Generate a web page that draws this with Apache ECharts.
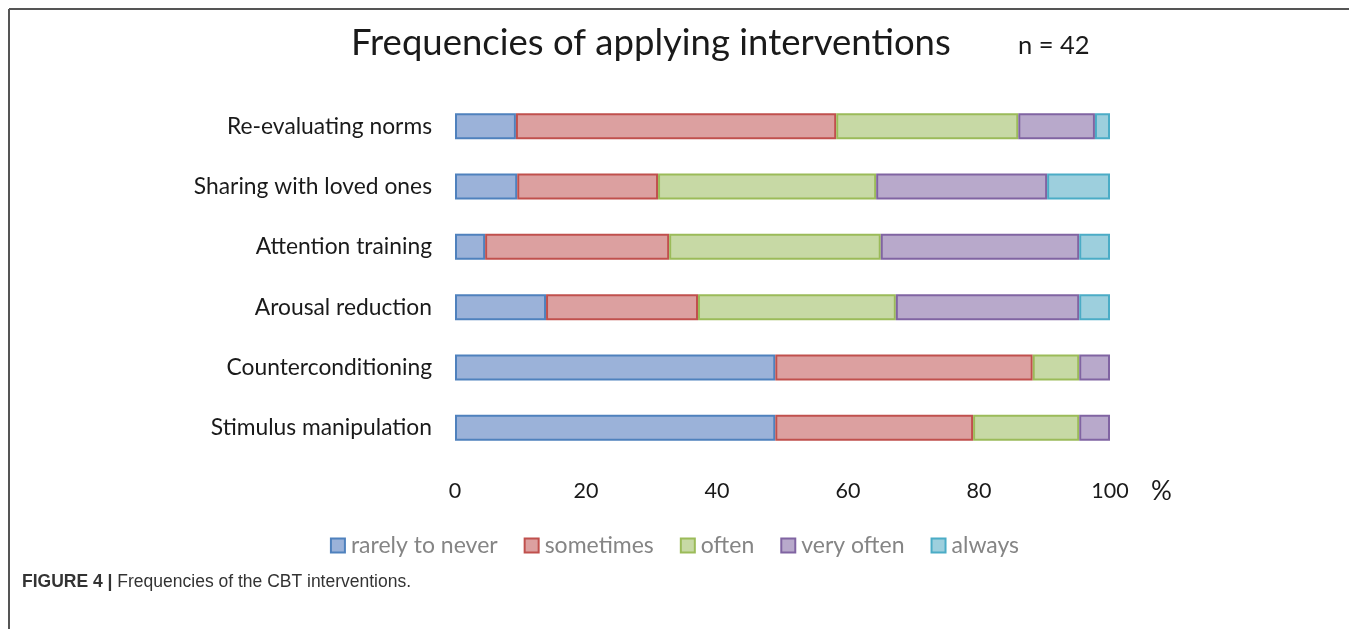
<!DOCTYPE html>
<html>
<head>
<meta charset="utf-8">
<script src="https://cdn.jsdelivr.net/npm/echarts@6/dist/echarts.min.js"></script>
<style>
  html, body { margin: 0; padding: 0; background: #fff; }
  #chart { width: 1349px; height: 629px; }
</style>
</head>
<body>
<div id="chart"></div>
<script>
// categories, bottom to top as echarts draws them
var categories = ['Stimulus manipulation', 'Counterconditioning', 'Arousal reduction',
                  'Attention training', 'Sharing with loved ones', 'Re-evaluating norms'];
var seriesNames = ['rarely to never', 'sometimes', 'often', 'very often', 'always'];

// percentages (same order as categories)
var rarelyToNever = [48.9, 48.9, 13.9, 4.6, 9.5, 9.3];
var sometimes     = [30.2, 39.3, 23.2, 28.1, 21.5, 48.9];
var often         = [16.2, 7.1, 30.2, 32.3, 33.3, 27.8];
var veryOften     = [4.7, 4.7, 28.0, 30.3, 26.1, 11.7];
var always        = [0, 0, 4.7, 4.7, 9.6, 2.3];

var fills   = ['#9bb2d9', '#dca0a0', '#c7d9a5', '#b8a9cb', '#9dcfdd'];
var borders = ['#4f81bd', '#c0504d', '#9bbb59', '#8064a2', '#4bacc6'];

var font = 'Lato, "Open Sans", sans-serif';
var chart = echarts.init(document.getElementById('chart'));

var allData = [rarelyToNever, sometimes, often, veryOften, always];
var series = allData.map(function (d, i) {
    return {
        name: seriesNames[i],
        type: 'bar',
        stack: 'total',
        barWidth: 26,
        // empty segments are not drawn at all
        data: d.map(function (v) { return v === 0 ? '-' : v; }),
        itemStyle: { color: fills[i], borderColor: borders[i], borderWidth: 2 }
    };
});

chart.setOption({
    animation: false,
    title: [
        { text: 'Frequencies of applying interventions', left: 346, top: 20,
          textStyle: { fontFamily: font, fontSize: 36.5, fontWeight: 'normal', color: '#1a1a1a' } },
        { text: 'n = 42', left: 1013, top: 28,
          textStyle: { fontFamily: font, fontSize: 25.5, fontWeight: 'normal', color: '#1a1a1a' } },
        { text: '%', left: 1146, top: 474,
          textStyle: { fontFamily: font, fontSize: 26, fontWeight: 'normal', color: '#1a1a1a' } },
        { text: '{b|FIGURE 4 |} Frequencies of the CBT interventions.', left: 17, top: 568,
          textStyle: { rich: {
              b: { fontFamily: 'Liberation Sans, Arial', fontSize: 17.5, fontWeight: 'bold', color: '#333' }
          }, fontFamily: 'Liberation Sans, Arial', fontSize: 17.5, fontWeight: 'normal', color: '#333' } }
    ],
    legend: {
        data: seriesNames,
        bottom: 67,
        left: 'center',
        itemWidth: 14,
        itemHeight: 14,
        itemGap: 26,
        icon: 'rect',
        textStyle: { fontFamily: font, fontSize: 23, color: '#858585', padding: [0, 0, 0, 1] }
    },
    grid: { left: 455, right: 239, top: 96, bottom: 171 },
    xAxis: {
        type: 'value',
        min: 0, max: 100, interval: 20,
        axisLine: { show: false },
        axisTick: { show: false },
        splitLine: { show: false },
        axisLabel: { fontFamily: font, fontSize: 21.5, color: '#1a1a1a', margin: 22 }
    },
    yAxis: {
        type: 'category',
        data: categories,
        axisLine: { show: false },
        axisTick: { show: false },
        axisLabel: { fontFamily: font, fontSize: 22.8, color: '#1a1a1a', margin: 23 }
    },
    graphic: [
        { type: 'line', shape: { x1: 9, y1: 9, x2: 1349, y2: 9 },
          style: { stroke: '#555', lineWidth: 2 } },
        { type: 'line', shape: { x1: 9, y1: 9, x2: 9, y2: 629 },
          style: { stroke: '#555', lineWidth: 2 } }
    ],
    series: series
});
</script>
</body>
</html>
